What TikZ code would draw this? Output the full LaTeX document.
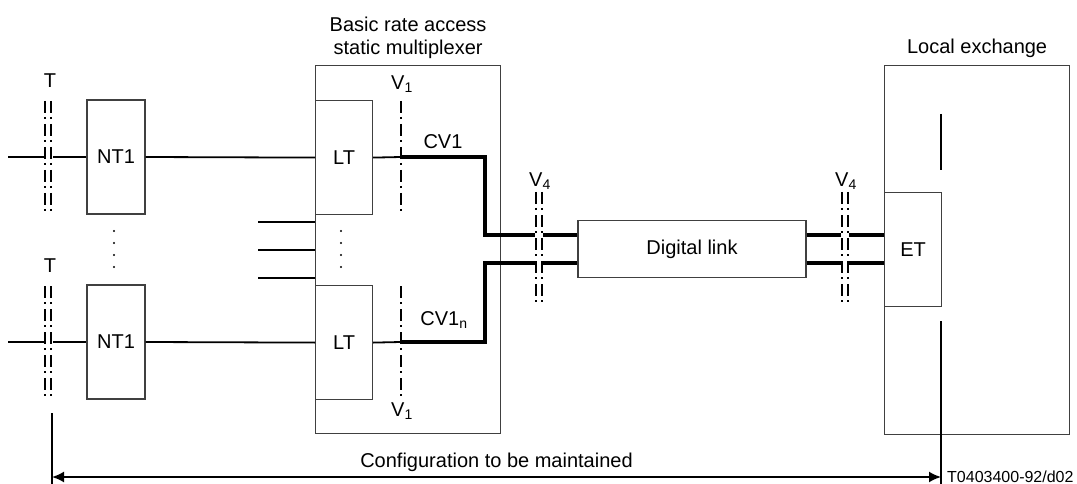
\documentclass[tikz,border=0pt]{standalone}
\usepackage{fontspec}
\setmainfont{Liberation Sans}
\usetikzlibrary{positioning,arrows.meta,calc}

\tikzset{
  box/.style={draw=black!75, line width=1.2pt, inner sep=0pt},
  wire/.style={line width=1.8pt},
  trunk/.style={line width=3.8pt},
  refline/.style={line width=2pt, dash pattern=on 12pt off 4pt on 2pt off 5pt},
  gap/.style={fill=white},
}

\begin{document}
\begin{tikzpicture}[x=1pt, y=-1pt, every node/.style={font=\fontsize{20}{23}\selectfont}]
        \useasboundingbox (0,0) rectangle (1077,484);

        % Blocks
        \node[box, minimum width=58pt, minimum height=114pt] (nt1a) at (116,157) {NT1};
        \node[box, minimum width=58pt, minimum height=114pt] (nt1b) at (116,342) {NT1};
        \node[box, minimum width=185pt, minimum height=368pt, anchor=north west] (mux) at (315,65) {};
        \node[box, minimum width=57pt, minimum height=114pt, anchor=north west] (lta) at (315,100) {LT};
        \node[box, minimum width=57pt, minimum height=114pt, anchor=north west] (ltb) at (315,285) {LT};
        \node[box, minimum width=228pt, minimum height=57pt] (link) at (692,249) {Digital link};
        \node[box, minimum width=185pt, minimum height=369pt, anchor=north west] (lex) at (884,65) {};
        \node[box, minimum width=57pt, minimum height=114pt, anchor=north west] (et) at (884,192) {ET};

        \node[align=center, above=3pt of mux] (muxtitle) {Basic rate access\\static multiplexer};
        \node[above=4pt of lex] (lextitle) {Local exchange};

        % Points
        \coordinate (ina) at (8,157);
        \coordinate (inb) at (8,342);
        \coordinate (v1a) at (401,157);
        \coordinate (v1b) at (401,342);
        \coordinate (ja) at (485,235);
        \coordinate (jb) at (485,263);

        % Subscriber side
        \draw[wire] (ina) -- (nt1a.west);
        \draw[wire] (inb) -- (nt1b.west);
        \draw[wire] (nt1a.east) -- (lta.west);
        \draw[wire] (nt1b.east) -- (ltb.west);
        \foreach \y in {222,250,278}
          \draw[wire] (258,\y) -- (mux.west |- 0,\y);

        % Multiplexer to exchange
        \draw[wire] (lta.east) -- (v1a);
        \draw[wire] (ltb.east) -- (v1b);
        \draw[trunk] (v1a) -| (ja) -- (ja -| link.west);
        \draw[trunk] (v1b) -| (jb) -- (jb -| link.west);
        \draw[trunk] (link.east |- ja) -- (ja -| et.west);
        \draw[trunk] (link.east |- jb) -- (jb -| et.west);

        % Reference points
        \fill[gap] (44,148) rectangle (53,166);
        \fill[gap] (44,333) rectangle (53,351);
        \fill[gap] (535,226) rectangle (543,272);
        \fill[gap] (841,226) rectangle (849,272);
        \foreach \x in {45,51} {
          \draw[refline] (\x,101) -- (\x,214);
          \draw[refline] (\x,286) -- (\x,400);
        }
        \foreach \x in {536,542,842,848}
          \draw[refline] (\x,192) -- (\x,305);
        \draw[refline] (401,101) -- (401,215);
        \draw[refline] (401,286) -- (401,400);

        \node (ta) at (50,81) {T};
        \node (tb) at (50,266) {T};
        \node (v1top) at (402,84) {V\textsubscript{1}};
        \node (v1bot) at (402,411) {V\textsubscript{1}};
        \node (v4l) at (540,181) {V\textsubscript{4}};
        \node (v4r) at (846,181) {V\textsubscript{4}};
        \node (cva) at (443,142) {CV1};
        \node (cvb) at (444,320) {CV1\textsubscript{n}};

        % Dots
        \foreach \y in {231,243,255,267} {
          \fill (114,\y) circle (1.1);
          \fill (341,\y) circle (1.1);
        }

        % Maintained configuration
        \coordinate (ltop) at (52,413);
        \coordinate (lbot) at (52,484);
        \coordinate (rtop) at (941,321);
        \coordinate (rbot) at (941,484);
        \coordinate (etop) at (941,114);
        \coordinate (ebot) at (941,170);
        \draw[wire] (ltop) -- (lbot);
        \draw[wire] (rtop) -- (rbot);
        \draw[wire] (etop) -- (ebot);
        \draw[wire, {Latex[length=12pt,width=11pt]}-{Latex[length=12pt,width=11pt]}]
          (ltop |- 0,477) -- (rtop |- 0,477)
          node[midway, above=4pt, inner sep=0pt] (conf) {Configuration to be maintained};
        \node[anchor=west, inner sep=0pt, font=\fontsize{16}{19}\selectfont] (code) at (947,477) {T0403400-92/d02};
    \end{tikzpicture}
\end{document}
